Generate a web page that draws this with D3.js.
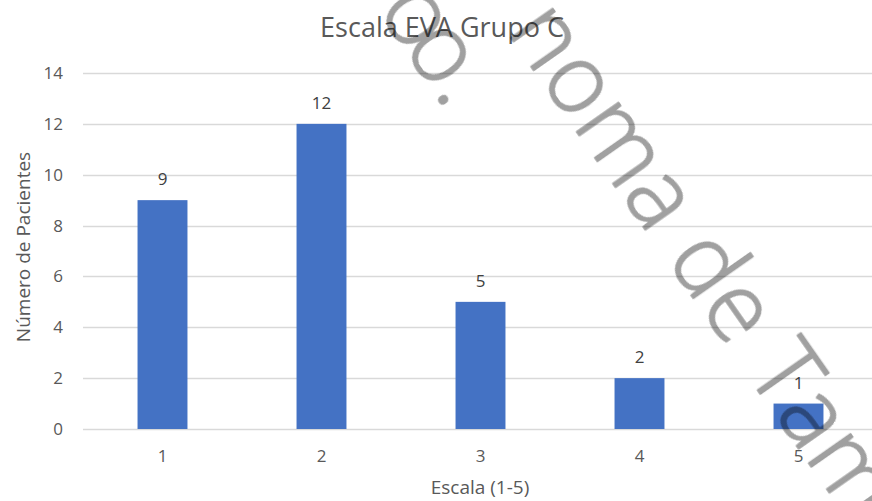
<!DOCTYPE html>
<html>
<head>
<meta charset="utf-8">
<script src="https://cdn.jsdelivr.net/npm/d3@7"></script>
<style>
  html, body { margin: 0; padding: 0; background: #ffffff; }
  svg { display: block; font-family: "Open Sans", "Noto Sans", sans-serif; }
</style>
</head>
<body>
<svg id="chart" width="872" height="501"></svg>
<script>
// ---- data ----
const categories = ["1", "2", "3", "4", "5"];
const values = [9, 12, 5, 2, 1];
const yTicks = [0, 2, 4, 6, 8, 10, 12, 14];
const chartTitle = "Escala EVA Grupo C";
const xTitle = "Escala (1-5)";
const yTitle = "Número de Pacientes";
const watermarkLines = ["o", "o.", "noma de Tamaulipas"];

// ---- layout ----
const W = 872, H = 501;
const plot = { left: 83, right: 878, top: 73, bottom: 429 };
const svg = d3.select("#chart");

const x = d3.scaleBand()
  .domain(categories)
  .range([plot.left, plot.right])
  .paddingInner(0.686)
  .paddingOuter(0.343);

const y = d3.scaleLinear().domain([0, 14]).range([plot.bottom, plot.top]);

// gridlines
svg.append("g")
  .selectAll("line")
  .data(yTicks)
  .join("line")
  .attr("x1", plot.left)
  .attr("x2", W)
  .attr("y1", d => Math.round(y(d)) + 0.5)
  .attr("y2", d => Math.round(y(d)) + 0.5)
  .attr("stroke", "#d9d9d9")
  .attr("stroke-width", 1.5);

// y axis tick labels
const yAxis = d3.axisLeft(y).tickValues(yTicks).tickSize(0).tickPadding(0);
const gy = svg.append("g").attr("transform", `translate(${plot.left - 20},0)`).call(yAxis);
gy.select(".domain").remove();
gy.selectAll("text")
  .attr("fill", "#595959")
  .attr("font-size", 17)
  .attr("font-family", "Open Sans, Noto Sans, sans-serif");

// x axis tick labels
const xAxis = d3.axisBottom(x).tickSize(0).tickPadding(0);
const gx = svg.append("g").attr("transform", `translate(0,${plot.bottom + 21})`).call(xAxis);
gx.select(".domain").remove();
gx.selectAll("text")
  .attr("fill", "#595959")
  .attr("font-size", 17)
  .attr("font-family", "Open Sans, Noto Sans, sans-serif");

// bars
svg.append("g")
  .selectAll("rect")
  .data(values)
  .join("rect")
  .attr("x", (d, i) => x(categories[i]))
  .attr("width", x.bandwidth())
  .attr("y", d => y(d))
  .attr("height", d => y(0) - y(d))
  .attr("fill", "#4472c4");

// data labels
svg.append("g")
  .selectAll("text")
  .data(values)
  .join("text")
  .attr("x", (d, i) => x(categories[i]) + x.bandwidth() / 2)
  .attr("y", d => y(d) - 15)
  .attr("text-anchor", "middle")
  .attr("fill", "#404040")
  .attr("font-size", 17)
  .text(d => d);

// title
svg.append("text")
  .attr("x", 442)
  .attr("y", 37)
  .attr("text-anchor", "middle")
  .attr("fill", "#595959")
  .attr("font-size", 27)
  .text(chartTitle);

// x title
svg.append("text")
  .attr("x", 480)
  .attr("y", 494)
  .attr("text-anchor", "middle")
  .attr("fill", "#595959")
  .attr("font-size", 19)
  .text(xTitle);

// y title
svg.append("text")
  .attr("transform", "translate(30,247) rotate(-90)")
  .attr("text-anchor", "middle")
  .attr("fill", "#595959")
  .attr("font-size", 19)
  .text(yTitle);

// watermark overlay
const wm = svg.append("g")
  .style("mix-blend-mode", "multiply")
  .attr("fill", "#a0a0a0")
  .attr("stroke", "#a0a0a0")
  .attr("stroke-width", 1.6)
  .attr("stroke-linejoin", "round")
  .attr("font-family", "Open Sans, Noto Sans, sans-serif")
  .attr("font-weight", 300)
  .attr("font-size", 95);
const wb = wm.append("text")
  .attr("transform", "translate(447,111) rotate(55)")
  .attr("text-anchor", "end");
wb.append("tspan").text(watermarkLines[0]);
wb.append("tspan").attr("dx", -11).text(watermarkLines[1]);
wm.append("text")
  .attr("transform", "translate(506,31) rotate(55)")
  .attr("letter-spacing", 1.5)
  .attr("word-spacing", 0)
  .text(watermarkLines[2]);
</script>
</body>
</html>
